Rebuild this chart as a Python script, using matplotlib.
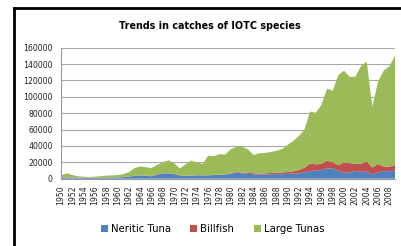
import matplotlib
matplotlib.use("Agg")
import matplotlib.pyplot as plt
from matplotlib.lines import Line2D
import numpy as np

years = list(range(1950, 2010))
neritic_tuna = [1500, 1500, 1300, 1200, 1000, 1000, 1000, 1200, 1300, 1500,
                1500, 1800, 2500, 3500, 4000, 3500, 3000, 5000, 6500, 6500,
                5500, 4000, 3500, 3500, 4000, 4000, 4000, 4500, 4500, 5000,
                6000, 7500, 6500, 6000, 5500, 5000, 5000, 5500, 5500, 5500,
                6000, 6000, 6500, 7700, 9400, 9800, 10600, 12600, 12600, 9800,
                7300, 7700, 9400, 8500, 8500, 5300, 7700, 9400, 9000, 9800]
billfish = [200, 200, 200, 200, 200, 200, 200, 200, 200, 200,
            200, 200, 200, 200, 200, 200, 200, 200, 200, 200,
            200, 200, 200, 300, 300, 300, 300, 300, 300, 400,
            500, 800, 1000, 1200, 1200, 1300, 1500, 1500, 1700, 2000,
            2200, 3000, 4000, 5700, 9300, 7700, 7400, 9400, 7400, 6900,
            12200, 11300, 8900, 9500, 12500, 8500, 10300, 5600, 5700, 6900]
large_tunas = [2300, 4800, 3000, 1600, 1300, 800, 1300, 1800, 2200, 2300,
               2800, 3500, 5300, 9300, 10800, 10300, 9800, 11800, 13300, 15800,
               13300, 8300, 13800, 18200, 15700, 13700, 23700, 22700, 25200, 24100,
               29500, 30700, 31500, 28800, 22300, 24700, 25000, 25500, 26800, 28500,
               32800, 37000, 41500, 46600, 63300, 63000, 72000, 88000, 87500, 109800,
               112500, 105500, 106200, 119500, 122000, 74200, 100500, 117000, 122300, 133300]
series_names = ["Neritic Tuna", "Billfish", "Large Tunas"]
colors = ["#4F81BD", "#C0504D", "#9BBB59"]
y_ticks = [0, 20000, 40000, 60000, 80000, 100000, 120000, 140000, 160000]
x_ticks = list(range(1950, 2010, 2))

fig = plt.figure(figsize=(4.01, 2.46), dpi=100)
fig.patch.set_facecolor("white")
ax = fig.add_axes([61/401, 1-178.7/246, (395-61)/401, (178.7-47.7)/246])

ax.stackplot(years, neritic_tuna, billfish, large_tunas, colors=colors,
             labels=series_names, linewidth=0)
ax.set_xlim(1950, 2009)
ax.set_ylim(0, 160000)
ax.set_yticks(y_ticks)
ax.set_yticklabels([str(v) for v in y_ticks], fontsize=5.6, family="DejaVu Sans",
                   color="#222222")
ax.set_xticks(x_ticks)
ax.set_xticklabels([str(v) for v in x_ticks], rotation=90, fontsize=5.6,
                   family="DejaVu Sans", color="#222222")
ax.grid(axis="y", color="#a6a6a6", linewidth=0.8)
ax.set_axisbelow(True)
for s in ["top", "right"]:
    ax.spines[s].set_visible(False)
for s in ["left", "bottom"]:
    ax.spines[s].set_color("#9a9a9a")
    ax.spines[s].set_linewidth(0.8)
ax.tick_params(axis="y", length=0, pad=6)
ax.tick_params(axis="x", length=0, pad=5)

fig.text(0.524, 1-26/246, "Trends in catches of IOTC species", ha="center",
         va="center", fontsize=6.9, fontweight="bold", family="DejaVu Sans")

leg = fig.legend(loc="center", bbox_to_anchor=(0.53, 1-229/246), ncol=3,
                 frameon=False, handlelength=0.7, handleheight=0.7,
                 handletextpad=0.3, columnspacing=1.9,
                 prop={"family": "DejaVu Sans", "size": 7.3})

fig.add_artist(Line2D([13.5/401, 13.5/401], [0, 1-8/246], color="black",
                      linewidth=2, transform=fig.transFigure))
fig.add_artist(Line2D([13.5/401, 1], [1-8/246, 1-8/246], color="black",
                      linewidth=2, transform=fig.transFigure))

fig.savefig("out.png", dpi=100)
